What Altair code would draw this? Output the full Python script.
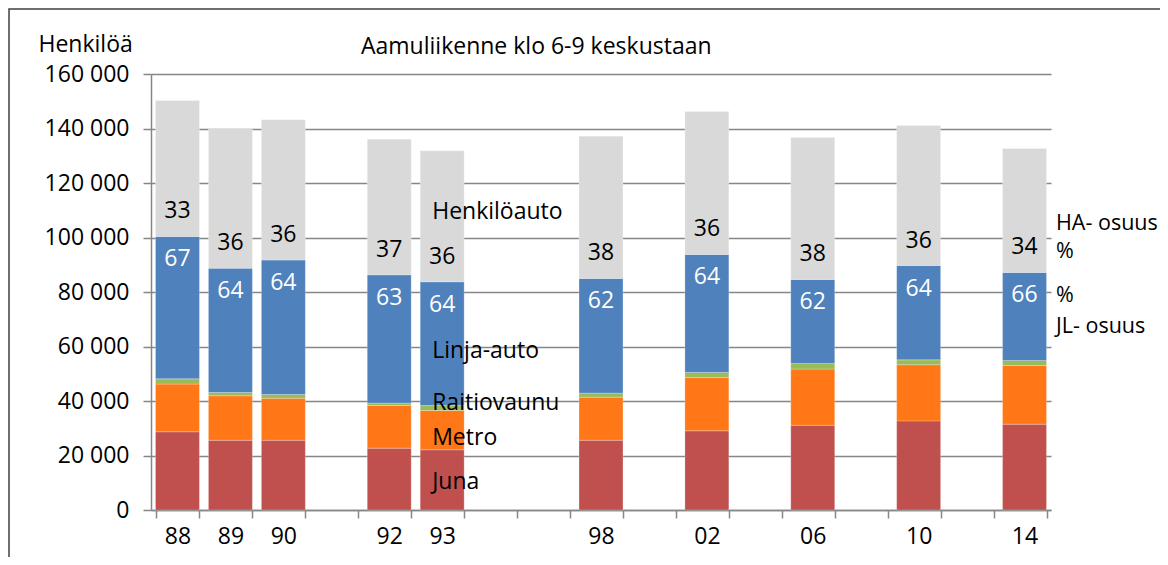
import altair as alt
import pandas as pd

# category slots (blank slots keep the gaps between years)
slots = ["88", "89", "90", " ", "92", "93", "  ", "   ", "98", "    ",
         "02", "     ", "06", "      ", "10", "       ", "14"]
years = ["88", "89", "90", "92", "93", "98", "02", "06", "10", "14"]

juna = [28700, 25600, 25600, 22700, 22100, 25600, 29050, 31100, 32700, 31500]
metro = [17500, 16300, 15400, 15650, 14400, 15800, 19550, 20600, 20600, 21500]
raitio = [1950, 1200, 1400, 850, 1850, 1500, 1900, 2100, 1800, 1900]
linja = [52250, 45650, 49300, 47100, 45400, 42100, 43300, 30800, 34600, 32300]
henk = [49900, 51350, 51500, 49800, 48050, 52200, 52400, 52100, 51400, 45500]

ha_pct = [33, 36, 36, 37, 36, 38, 36, 38, 36, 34]
jl_pct = [67, 64, 64, 63, 64, 62, 64, 62, 64, 66]

series = ["Juna", "Metro", "Raitiovaunu", "Linja-auto", "Henkilöauto"]
colors = ["#C0504D", "#FF7716", "#9BBB59", "#4F81BD", "#D9D9D9"]
y_ticks = [0, 20000, 40000, 60000, 80000, 100000, 120000, 140000, 160000]

# series-name annotation anchors (values on the y scale, placed on the 93 bar)
name_y = [10100, 26600, 39100, 58200, 109500]

# side annotations and their anchors on the y scale
side_text = ["HA- osuus", "%", "%", "JL- osuus"]
side_y = [105000, 94600, 78600, 67300]

FONT = "Open Sans"
FS = 23

vals = [juna, metro, raitio, linja, henk]
rows = []
for i, yr in enumerate(years):
    for k, s in enumerate(series):
        rows.append({"vuosi": yr, "sarja": s, "arvo": vals[k][i], "jarj": k})
df = pd.DataFrame(rows)

lab = pd.DataFrame({
    "vuosi": years,
    "top": [juna[i] + metro[i] + raitio[i] + linja[i] for i in range(len(years))],
    "ha": [str(v) for v in ha_pct],
    "jl": [str(v) for v in jl_pct],
})

names = pd.DataFrame({"vuosi": ["93"] * len(series), "nimi": series, "y": name_y})

xscale = alt.Scale(domain=slots, paddingInner=0.17, paddingOuter=0.085)
yscale = alt.Scale(domain=[0, 160000], nice=False)

bars = alt.Chart(df).mark_bar(stroke="white", strokeWidth=0.4, strokeOpacity=0.6).encode(
    x=alt.X("vuosi:N", scale=xscale, sort=slots,
            axis=alt.Axis(title=None, labelAngle=0, tickBand="extent",
                          tickSize=8, labelPadding=7, tickColor="#868686",
                          domainColor="#868686", domainWidth=1.5, tickWidth=1.5,
                          labelFont=FONT, labelFontSize=FS, labelColor="black")),
    y=alt.Y("arvo:Q", scale=yscale, stack="zero",
            axis=alt.Axis(values=y_ticks, title="Henkilöä", titleAngle=0,
                          titleAlign="left", titleBaseline="middle",
                          titleX=-113, titleY=-30, titleFont=FONT,
                          titleFontSize=FS, titleFontWeight="normal",
                          titleColor="black",
                          labelExpr="replace(format(datum.value, ','), ',', ' ')",
                          tickSize=8, labelPadding=14, tickColor="#868686",
                          tickWidth=1.5, domainColor="#868686", domainWidth=1.5,
                          gridColor="#868686", gridWidth=1.5,
                          labelFont=FONT, labelFontSize=FS, labelColor="black")),
    color=alt.Color("sarja:N", scale=alt.Scale(domain=series, range=colors), legend=None),
    order=alt.Order("jarj:Q", sort="ascending"),
)

ha_txt = alt.Chart(lab).mark_text(font=FONT, fontSize=FS, color="black",
                                  baseline="middle", dy=-25).encode(
    x=alt.X("vuosi:N", scale=xscale, sort=slots),
    y=alt.Y("top:Q", scale=yscale),
    text="ha:N",
)
jl_txt = alt.Chart(lab).mark_text(font=FONT, fontSize=FS, color="white",
                                  baseline="middle", dy=23).encode(
    x=alt.X("vuosi:N", scale=xscale, sort=slots),
    y=alt.Y("top:Q", scale=yscale),
    text="jl:N",
)
nm_txt = alt.Chart(names).mark_text(font=FONT, fontSize=FS, color="black",
                                    baseline="middle", align="left", dx=-10).encode(
    x=alt.X("vuosi:N", scale=xscale, sort=slots),
    y=alt.Y("y:Q", scale=yscale),
    text="nimi:N",
)

title_df = pd.DataFrame({"t": ["Aamuliikenne klo 6-9 keskustaan"]})
title_txt = alt.Chart(title_df).mark_text(font=FONT, fontSize=FS, color="black",
                                          align="left", baseline="middle").encode(
    x=alt.value(210), y=alt.value(-27), text="t:N")

side_df = pd.DataFrame({"t": side_text, "y": side_y})
side_txt = alt.Chart(side_df).mark_text(font=FONT, fontSize=21.5, color="black",
                                        align="left", baseline="middle").encode(
    x=alt.value(905), y=alt.Y("y:Q", scale=yscale), text="t:N")

frame = alt.Chart(pd.DataFrame({"a": [0]})).mark_rect(
    fillOpacity=0, stroke="#404040", strokeWidth=1.5).encode(
    x=alt.value(-142), x2=alt.value(1200), y=alt.value(-65), y2=alt.value(700))

chart = alt.layer(bars, ha_txt, jl_txt, nm_txt, title_txt, side_txt, frame).properties(
    width=900, height=436,
    autosize=alt.AutoSizeParams(type="none"),
    padding={"left": 143, "top": 66, "right": 109, "bottom": 47},
).configure_view(stroke=None).configure_axis(gridOpacity=1)

chart.save("out.html", embed_options={"renderer": "svg", "actions": False})
